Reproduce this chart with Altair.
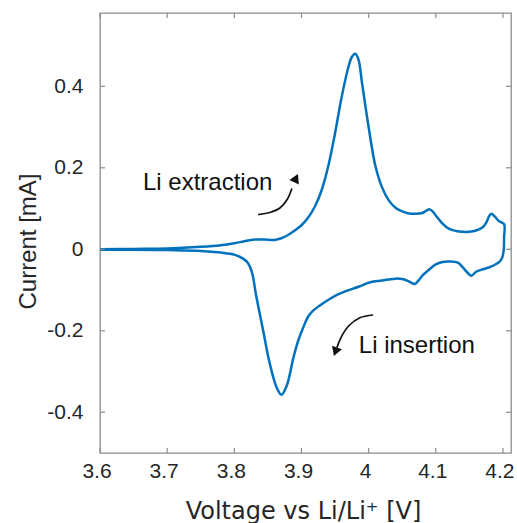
import altair as alt
import pandas as pd

# ---- data ----
up_v = [3.60, 3.65, 3.70, 3.75, 3.78, 3.80, 3.815, 3.83, 3.845, 3.86, 3.87, 3.88, 3.89, 3.90,
        3.91, 3.92, 3.93, 3.94, 3.95, 3.96, 3.97, 3.975, 3.98, 3.985, 3.99, 4.00, 4.01, 4.02,
        4.03, 4.04, 4.05, 4.06, 4.07, 4.08, 4.086, 4.091, 4.096, 4.10, 4.11, 4.12, 4.13, 4.14,
        4.15, 4.16, 4.17, 4.175, 4.18, 4.183, 4.188, 4.195, 4.2017]
up_i = [0.000, 0.001, 0.002, 0.006, 0.010, 0.015, 0.020, 0.024, 0.024, 0.023, 0.027, 0.035,
        0.046, 0.059, 0.078, 0.105, 0.145, 0.205, 0.285, 0.375, 0.448, 0.472, 0.480, 0.465,
        0.410, 0.300, 0.205, 0.152, 0.120, 0.102, 0.093, 0.088, 0.087, 0.089, 0.095, 0.098,
        0.092, 0.083, 0.063, 0.050, 0.045, 0.043, 0.043, 0.046, 0.054, 0.065, 0.083, 0.087,
        0.080, 0.068, 0.062]

down_v = [4.2017, 4.2012, 4.199, 4.195, 4.19, 4.18, 4.17, 4.16, 4.153, 4.147, 4.14, 4.133,
          4.121, 4.11, 4.10, 4.09, 4.081, 4.075, 4.069, 4.06, 4.05, 4.04, 4.03, 4.017, 4.00,
          3.985, 3.967, 3.955, 3.942, 3.93, 3.917, 3.91, 3.9026, 3.895, 3.888, 3.878, 3.870,
          3.863, 3.853, 3.843, 3.833, 3.826, 3.82, 3.813, 3.80, 3.78, 3.75, 3.70, 3.65, 3.60]
down_i = [0.030, 0.000, -0.020, -0.030, -0.036, -0.044, -0.049, -0.055, -0.065, -0.057, -0.044,
          -0.033, -0.030, -0.031, -0.037, -0.050, -0.063, -0.075, -0.085, -0.079, -0.073,
          -0.072, -0.074, -0.077, -0.082, -0.092, -0.102, -0.110, -0.122, -0.135, -0.151,
          -0.165, -0.192, -0.225, -0.266, -0.335, -0.357, -0.339, -0.282, -0.200, -0.118,
          -0.055, -0.033, -0.023, -0.013, -0.008, -0.004, -0.002, -0.001, -0.001]

x_ticks = [3.6, 3.7, 3.8, 3.9, 4.0, 4.1, 4.2]
y_ticks = [-0.4, -0.2, 0.0, 0.2, 0.4]

ann_text = ["Li extraction", "Li insertion"]
ann_v = [3.664, 3.9854]
ann_i = [0.146, -0.254]

arrow_id = ["ext"] * 5 + ["ins"] * 5
arrow_v = [3.8356, 3.853, 3.8679, 3.8787, 3.8857, 4.0067, 3.9869, 3.9705, 3.9586, 3.9527]
arrow_i = [0.0853, 0.0903, 0.1013, 0.1222, 0.1493, -0.1613, -0.168, -0.1877, -0.2172, -0.2418]
head_v = [3.8919, 3.9506]
head_i = [0.1745, -0.2515]
head_angle = [25, 200]

W, H = 411, 440
XDOM = [3.6, 4.212]
YDOM = [-0.5, 0.58]

curve = pd.DataFrame({
    "V": up_v + down_v,
    "I": up_i + down_i,
    "order": list(range(len(up_v) + len(down_v))),
})

xs = alt.Scale(domain=XDOM, nice=False, zero=False)
ys = alt.Scale(domain=YDOM, nice=False, zero=False)

x_axis = alt.Axis(
    values=x_ticks, labelExpr="toString(round(datum.value*10)/10)",
    labelFont="Liberation Sans", labelFontSize=21, labelColor="#262626",
    labelPadding=7, labelFlush=False, labelOverlap=False, labelBound=False, labelOffset=-3.5,
    ticks=False, tickSize=0, domain=False, grid=False,
    title="Voltage vs Li/Li\u207a [V]", titleFont="DejaVu Sans", titleFontSize=24,
    titleFontWeight="normal", titleColor="#262626",
    titleX=203, titleY=65, titleBaseline="alphabetic", titleAlign="center",
)
y_axis = alt.Axis(
    values=y_ticks, labelExpr="toString(round(datum.value*10)/10)",
    labelFont="Liberation Sans", labelFontSize=21, labelColor="#262626",
    labelPadding=17, labelFlush=False, labelOverlap=False,
    ticks=False, tickSize=0, domain=False, grid=False,
    title="Current [mA]", titleFont="Liberation Sans", titleFontSize=24,
    titleFontWeight="normal", titleColor="#262626",
    titleX=-65, titleY=228, titleBaseline="alphabetic", titleAlign="center", titleAngle=270,
)


def X(field="V"):
    return alt.X(f"{field}:Q", scale=xs, axis=x_axis, title="Voltage vs Li/Li\u207a [V]")


def Y(field="I"):
    return alt.Y(f"{field}:Q", scale=ys, axis=y_axis, title="Current [mA]")


line = alt.Chart(curve).mark_line(
    color="#0072BD", strokeWidth=2.5, interpolate="catmull-rom"
).encode(x=X(), y=Y(), order="order:Q")

tick_color = "#8c8c8c"
xt = pd.DataFrame({"V": x_ticks})
yt = pd.DataFrame({"I": y_ticks})
xt_bottom = alt.Chart(xt).mark_rule(color=tick_color, strokeWidth=1.2).encode(
    x=X(), y=alt.value(H), y2=alt.value(H - 5))
xt_top = alt.Chart(xt).mark_rule(color=tick_color, strokeWidth=1.2).encode(
    x=X(), y=alt.value(0), y2=alt.value(5))
yt_left = alt.Chart(yt).mark_rule(color=tick_color, strokeWidth=1.2).encode(
    y=Y(), x=alt.value(0), x2=alt.value(5))
yt_right = alt.Chart(yt).mark_rule(color=tick_color, strokeWidth=1.2).encode(
    y=Y(), x=alt.value(W), x2=alt.value(W - 5))

ann = pd.DataFrame({"t": ann_text, "V": ann_v, "I": ann_i})
text = alt.Chart(ann).mark_text(
    align="left", baseline="alphabetic", font="Liberation Sans", fontSize=24, color="#111111"
).encode(x=X(), y=Y(), text="t:N")

arr = pd.DataFrame({"id": arrow_id, "V": arrow_v, "I": arrow_i,
                    "k": list(range(len(arrow_v)))})
arrows = alt.Chart(arr).mark_line(color="#111111", strokeWidth=1.7, interpolate="catmull-rom").encode(
    x=X(), y=Y(), detail="id:N", order="k:Q")

heads = pd.DataFrame({"V": head_v, "I": head_i, "a": head_angle})
arrowheads = alt.Chart(heads).mark_point(
    shape="triangle-up", filled=True, color="#111111", size=110, opacity=1
).encode(x=X(), y=Y(), angle=alt.Angle("a:Q", scale=None))

chart = alt.layer(line, xt_bottom, xt_top, yt_left, yt_right, arrows, arrowheads, text).properties(
    width=W, height=H,
    autosize=alt.AutoSizeParams(type="none"),
    padding={"left": 100, "top": 13, "right": 6, "bottom": 70},
    background="white",
).configure_view(stroke="#8c8c8c", strokeWidth=1.3)

chart.save("out.html", embed_options={"renderer": "svg", "actions": False})
